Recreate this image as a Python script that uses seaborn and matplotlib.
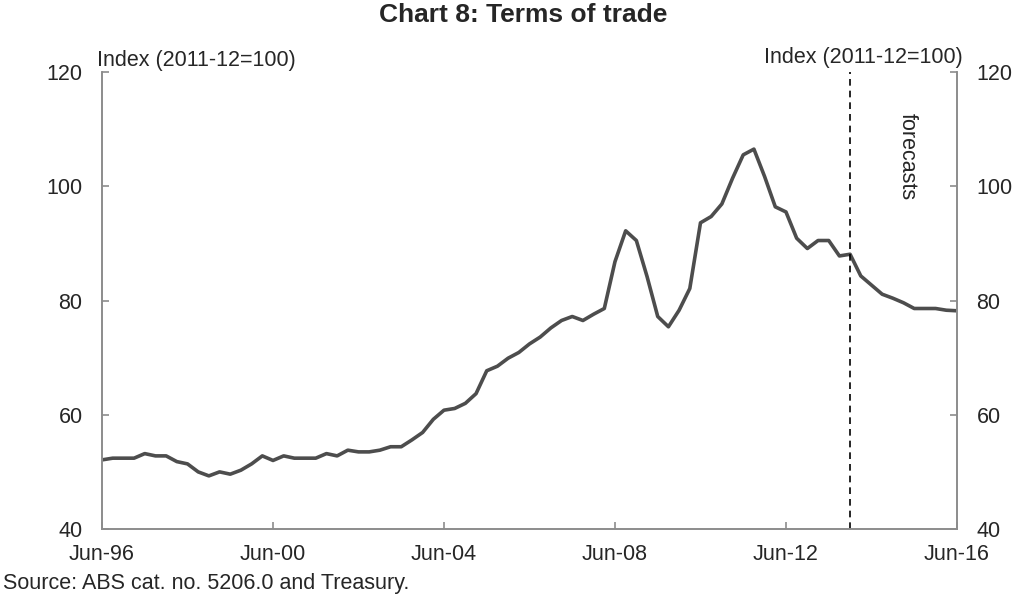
import numpy as np
import pandas as pd
import matplotlib
matplotlib.use("Agg")
import matplotlib.pyplot as plt
import seaborn as sns

# Quarterly terms of trade, Jun-96 to Jun-16 (index 2011-12=100)
quarters = pd.period_range("1996Q2", "2016Q2", freq="Q")
terms_of_trade = [
    52.1, 52.4, 52.4, 52.4, 53.2, 52.8, 52.8, 51.8, 51.4, 50.0,
    49.3, 50.0, 49.6, 50.3, 51.4, 52.8, 52.0, 52.8, 52.4, 52.4,
    52.4, 53.2, 52.8, 53.8, 53.5, 53.5, 53.8, 54.4, 54.4, 55.6,
    56.9, 59.2, 60.8, 61.1, 62.0, 63.7, 67.7, 68.5, 69.9, 70.9,
    72.4, 73.6, 75.2, 76.5, 77.2, 76.5, 77.6, 78.6, 86.8, 92.2,
    90.5, 84.2, 77.2, 75.4, 78.3, 82.1, 93.6, 94.7, 96.9, 101.4,
    105.5, 106.5, 101.7, 96.4, 95.5, 90.9, 89.1, 90.5, 90.5, 87.8,
    88.1, 84.3, 82.7, 81.1, 80.4, 79.6, 78.6, 78.6, 78.6, 78.3, 78.2,
]
forecast_start = pd.Period("2013Q4", freq="Q")
tick_quarters = ["1996Q2", "2000Q2", "2004Q2", "2008Q2", "2012Q2", "2016Q2"]
tick_labels = ["Jun-96", "Jun-00", "Jun-04", "Jun-08", "Jun-12", "Jun-16"]
y_ticks = [40, 60, 80, 100, 120]

sns.set_style("white")
plt.rcParams["font.family"] = ["Liberation Sans", "DejaVu Sans"]

df = pd.DataFrame({"pos": np.arange(len(quarters)), "tot": terms_of_trade})
start = quarters[0]
qpos = lambda q: (pd.Period(q, freq="Q") - start).n

fig = plt.figure(figsize=(10.16, 5.96), dpi=100)
ax = fig.add_axes([0.1004, 0.1124, 0.8415, 0.7668])

sns.lineplot(data=df, x="pos", y="tot", ax=ax, color="#4d4d4d", linewidth=2.6)
ax.axvline(qpos(forecast_start), color="black", linestyle=(0, (4, 3)), linewidth=1.2)

ax.set_xlim(0, len(quarters) - 1)
ax.set_ylim(40, 120)
ax.set_xticks([qpos(q) for q in tick_quarters])
ax.set_xticklabels(tick_labels)
ax.set_yticks(y_ticks)
ax.set_xlabel("")
ax.set_ylabel("")

ax2 = ax.twinx()
ax2.set_ylim(ax.get_ylim())
ax2.set_yticks(y_ticks)

for a in (ax, ax2):
    a.spines["top"].set_visible(False)
    for s in a.spines.values():
        s.set_color("#8c8c8c")
        s.set_linewidth(1.2)

fs = 15.5
ax.tick_params(axis="y", direction="in", length=5, width=1.2, color="#8c8c8c",
               labelsize=fs, pad=14, left=True)
ax.tick_params(axis="x", direction="in", length=5, width=1.2, color="#8c8c8c",
               labelsize=fs, pad=11, bottom=True)
ax2.tick_params(axis="y", direction="in", length=5, width=1.2, color="#8c8c8c",
                labelsize=fs, pad=14, right=True)

fig.text(0.5148, 0.974, "Chart 8: Terms of trade", ha="center", va="center",
         fontsize=19, fontweight="bold")
fig.text(0.095, 0.898, "Index (2011-12=100)", ha="left", va="center", fontsize=fs)
fig.text(0.948, 0.904, "Index (2011-12=100)", ha="right", va="center", fontsize=fs)
fig.text(907 / 1016, 1 - 157 / 596, "forecasts", rotation=270, ha="center",
         va="center", fontsize=fs)
fig.text(0.003, 1 - 584 / 596, "Source: ABS cat. no. 5206.0 and Treasury.",
         ha="left", va="center", fontsize=fs)

fig.savefig("out.png", dpi=100)
